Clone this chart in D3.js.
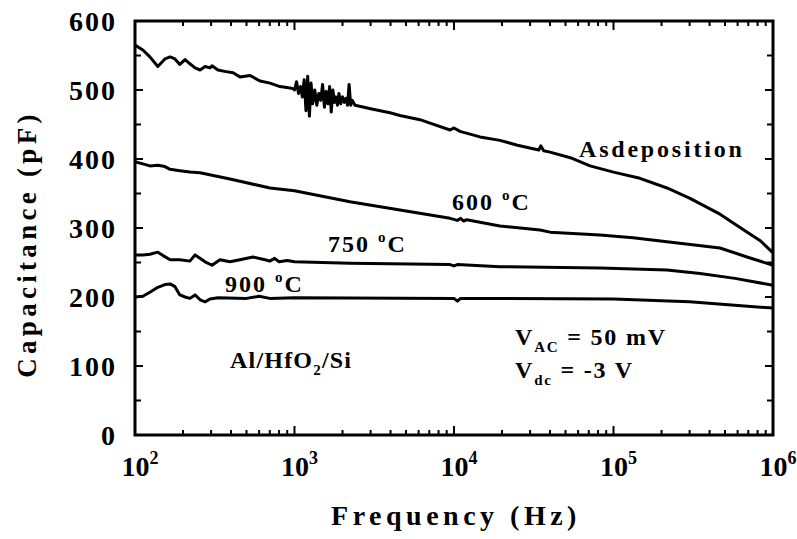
<!DOCTYPE html>
<html>
<head>
<meta charset="utf-8">
<script src="https://cdn.jsdelivr.net/npm/d3@7"></script>
<style>
  html, body { margin: 0; padding: 0; background: #fff; }
  svg { display: block; }
  text { font-family: "Liberation Serif", "Times New Roman", serif; font-weight: bold; fill: #000; }
</style>
</head>
<body>
<svg id="chart" width="797" height="539"></svg>
<script>
// Capacitance vs. frequency for Al/HfO2/Si capacitors, as deposited and after annealing

const asdepFreq = [100, 112, 124, 139, 154, 166, 178, 191, 206, 221, 238, 256, 275, 295, 304, 331, 365, 412, 455, 526, 608, 702, 811, 937, 979,
  1000, 1030, 1060, 1090, 1120, 1150, 1180, 1210, 1240, 1270, 1300, 1340, 1380, 1420, 1460, 1500, 1540, 1580, 1620, 1660, 1700,
  1740, 1780, 1820, 1860, 1900, 1950, 2000, 2050, 2100, 2150, 2200, 2250, 2300, 2395,
  3104, 3970, 4585, 6120, 7075, 9450, 10000, 10900, 14560, 19420, 25000, 34000, 35000, 36500, 40000, 55000, 71300, 100000, 146500, 216400, 301700, 465300, 667000, 828000, 1000000];
const asdepCap = [565, 558, 548, 534, 545, 548, 545, 537, 544, 538, 532, 529, 534, 532, 535, 529, 527, 525, 519, 521, 513, 510, 505, 503, 502,
  500, 512, 495, 505, 490, 515, 470, 520, 462, 510, 480, 500, 478, 495, 485, 508, 475, 498, 480, 505, 468,
  500, 482, 490, 478, 495, 480, 490, 482, 488, 478, 508, 478, 485, 478,
  472, 467, 463, 457, 452, 442, 445, 440, 432, 427, 420, 413, 419, 412, 410, 401, 390, 381, 372, 358, 343, 320, 296, 282, 264];

const t600Freq = [100, 112, 124, 139, 154, 166, 191, 221, 256, 394, 702, 1000, 2226, 4585, 9450, 10500, 11000, 11500, 12000, 19420, 34600, 40000, 82300, 132600, 216400, 465300, 687000, 1000000];
const t600Cap = [396, 393, 390, 391, 389, 385, 383, 381, 380, 371, 358, 354, 338, 326, 314, 311, 314, 310, 312, 303, 297, 294, 290, 286, 280, 271, 258, 246];

const t750Freq = [100, 112, 124, 139, 150, 166, 191, 221, 238, 275, 304, 341, 394, 455, 549, 654, 700, 750, 800, 900, 1000, 2226, 9450, 10000, 10500, 19420, 82300, 216400, 348700, 578000, 1000000];
const t750Cap = [261, 261, 262, 265, 260, 254, 254, 252, 261, 251, 246, 254, 251, 254, 258, 254, 252, 256, 251, 253, 251, 249, 247, 245, 247, 244, 242, 239, 234, 227, 217];

const t900Freq = [100, 112, 124, 139, 154, 166, 178, 191, 206, 221, 238, 256, 275, 295, 331, 500, 600, 700, 1000, 10000, 10500, 11000, 100000, 300000, 500000, 1000000];
const t900Cap = [200, 201, 207, 214, 218, 219, 215, 203, 200, 198, 203, 196, 193, 197, 199, 198, 201, 198, 199, 198, 194, 198, 197, 193, 189, 184];

const yTicks = [0, 100, 200, 300, 400, 500, 600];
const xDecades = [2, 3, 4, 5, 6];

const margin = { left: 135, right: 797 - 773, top: 21, bottom: 539 - 435 };
const W = 797, H = 539;

const svg = d3.select("#chart");

const x = d3.scaleLog().domain([1e2, 1e6]).range([margin.left, W - margin.right]);
const y = d3.scaleLinear().domain([0, 600]).range([H - margin.bottom, margin.top]);

const x0 = x.range()[0], x1 = x.range()[1], y0 = y.range()[0], y1 = y.range()[1];

// series curves
const line = d3.line().x(d => x(d[0])).y(d => y(d[1]));
const series = [
  [asdepFreq, asdepCap],
  [t600Freq, t600Cap],
  [t750Freq, t750Cap],
  [t900Freq, t900Cap]
];
svg.append("g").selectAll("path")
  .data(series.map(([f, c]) => f.map((v, i) => [v, c[i]])))
  .join("path")
  .attr("d", line)
  .attr("fill", "none")
  .attr("stroke", "#000")
  .attr("stroke-width", 3)
  .attr("stroke-linejoin", "round");

// ticks: log decades + minors on x, 100 majors + 50 minors on y, all pointing inward
const xMinor = [];
for (let d = 2; d < 6; d++) for (let m = 2; m <= 9; m++) xMinor.push(m * Math.pow(10, d));
const xMajor = xDecades.map(d => Math.pow(10, d));
const yMinor = d3.range(50, 600, 100);

const tickG = svg.append("g").attr("stroke", "#000").attr("stroke-width", 2);
const addTicks = (vals, len, fn) => vals.forEach(v => { const s = fn(v, len); tickG.append("line").attr("x1", s[0]).attr("y1", s[1]).attr("x2", s[2]).attr("y2", s[3]); });
addTicks(xMajor, 9, (v, l) => [x(v), y0, x(v), y0 - l]);
addTicks(xMajor, 9, (v, l) => [x(v), y1, x(v), y1 + l]);
addTicks(xMinor, 5, (v, l) => [x(v), y0, x(v), y0 - l]);
addTicks(xMinor, 5, (v, l) => [x(v), y1, x(v), y1 + l]);
addTicks(yTicks, 8, (v, l) => [x0, y(v), x0 + l, y(v)]);
addTicks(yTicks, 8, (v, l) => [x1, y(v), x1 - l, y(v)]);
addTicks(yMinor, 6, (v, l) => [x0, y(v), x0 + l, y(v)]);
addTicks(yMinor, 6, (v, l) => [x1, y(v), x1 - l, y(v)]);

// frame
svg.append("rect")
  .attr("x", x0).attr("y", y1).attr("width", x1 - x0).attr("height", y0 - y1)
  .attr("fill", "none").attr("stroke", "#000").attr("stroke-width", 3);

// y tick labels
svg.append("g").selectAll("text").data(yTicks).join("text")
  .attr("x", 117).attr("y", d => y(d)).attr("dy", "0.35em")
  .attr("text-anchor", "end")
  .attr("font-size", 28).attr("letter-spacing", 2)
  .text(d => d);

// x tick labels as powers of ten
const xl = svg.append("g").selectAll("text").data(xDecades).join("text")
  .attr("x", d => x(Math.pow(10, d)) + 5).attr("y", 476)
  .attr("text-anchor", "middle")
  .attr("font-size", 28);
xl.append("tspan").text("10");
xl.append("tspan").attr("dy", -12).attr("font-size", 18).text(d => d);

// axis titles
svg.append("text").attr("x", 456).attr("y", 525).attr("text-anchor", "middle")
  .attr("font-size", 28).attr("letter-spacing", 4.5).text("Frequency (Hz)");
svg.append("text").attr("transform", "translate(36,244) rotate(-90)").attr("text-anchor", "middle")
  .attr("font-size", 27).attr("letter-spacing", 4.3).text("Capacitance (pF)");

// curve annotations
svg.append("text").attr("x", 579).attr("y", 157).attr("font-size", 24).attr("letter-spacing", 2.8).text("Asdeposition");

const tempLabels = [["600 ", 452, 210], ["750 ", 328, 252], ["900 ", 225, 292]];
tempLabels.forEach(([t, lx, ly]) => {
  const tx = svg.append("text").attr("x", lx).attr("y", ly).attr("font-size", 24).attr("letter-spacing", 2);
  tx.append("tspan").text(t);
  tx.append("tspan").attr("dy", -10).attr("font-size", 15).text("o");
  tx.append("tspan").attr("dy", 10).text("C");
});

const dev = svg.append("text").attr("x", 230).attr("y", 368).attr("font-size", 24).attr("letter-spacing", 1.2);
dev.append("tspan").text("Al/HfO");
dev.append("tspan").attr("dy", 7).attr("font-size", 15).text("2");
dev.append("tspan").attr("dy", -7).text("/Si");

const vac = svg.append("text").attr("x", 515).attr("y", 345).attr("font-size", 24).attr("letter-spacing", 1.8);
vac.append("tspan").text("V");
vac.append("tspan").attr("dy", 7).attr("font-size", 15).text("AC");
vac.append("tspan").attr("dy", -7).text(" = 50 mV");

const vdc = svg.append("text").attr("x", 515).attr("y", 378).attr("font-size", 24).attr("letter-spacing", 1.8);
vdc.append("tspan").text("V");
vdc.append("tspan").attr("dy", 7).attr("font-size", 15).text("dc");
vdc.append("tspan").attr("dy", -7).text(" = -3 V");
</script>
</body>
</html>
